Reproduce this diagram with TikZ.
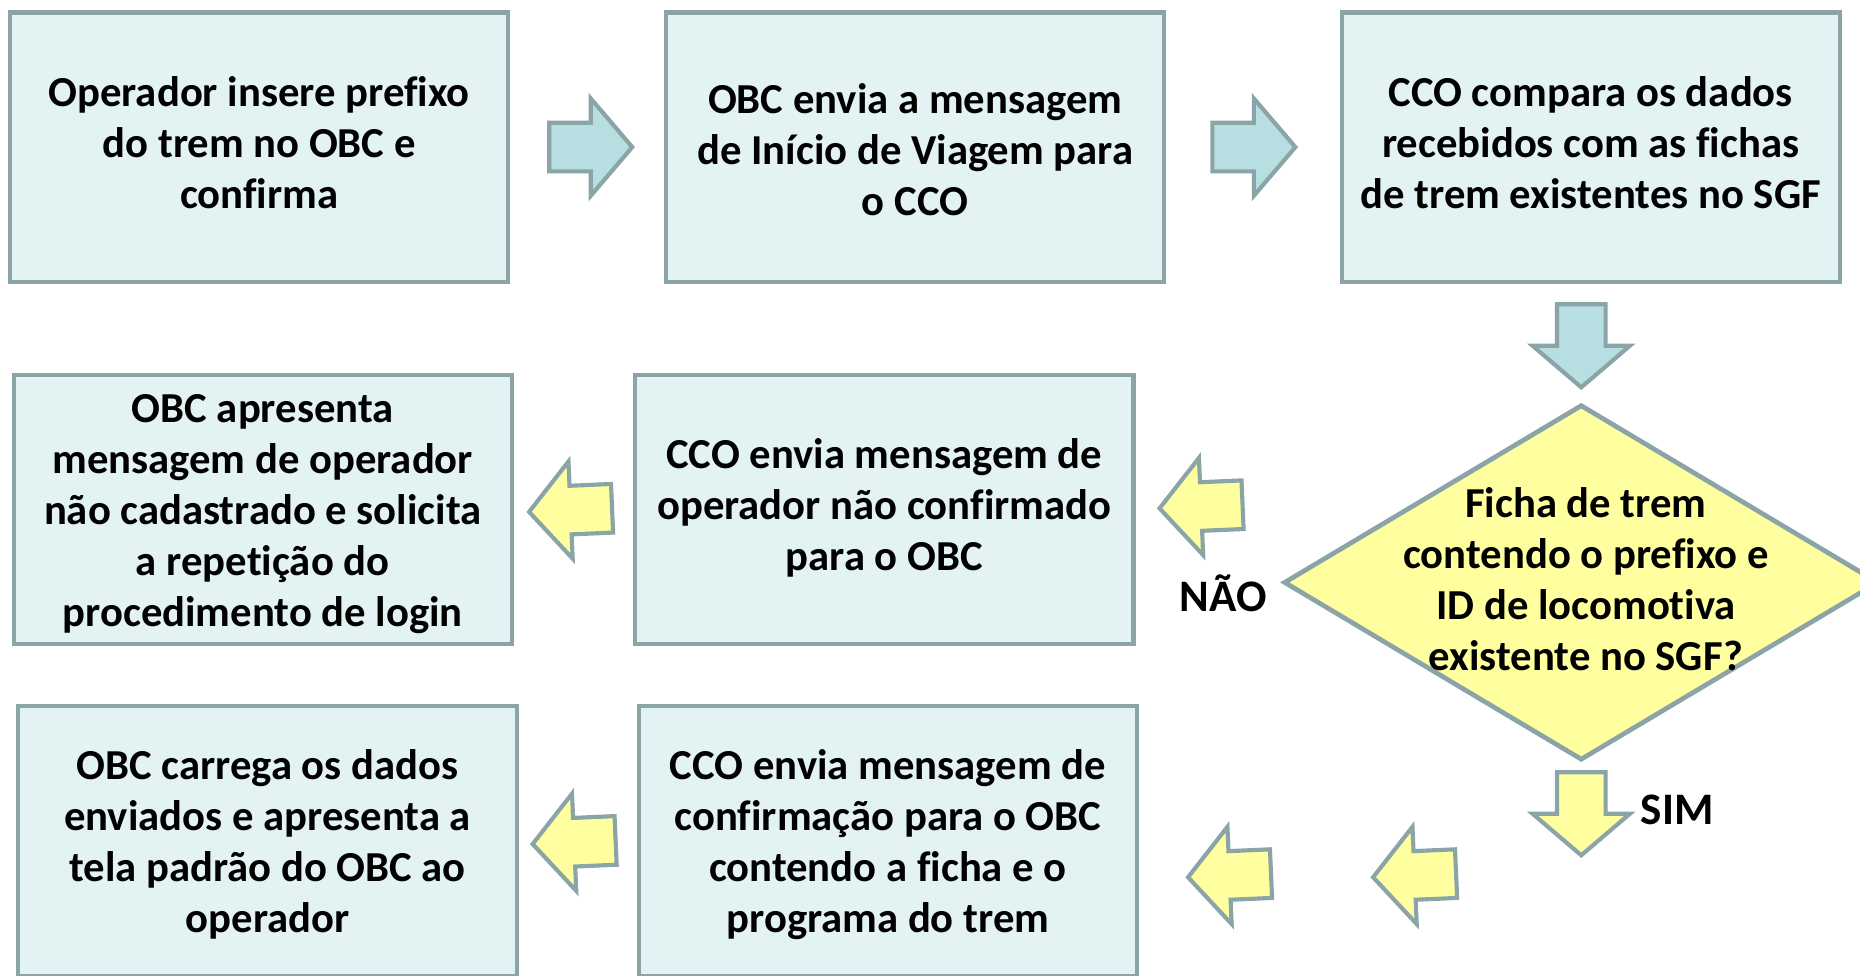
\documentclass[tikz,border=0pt]{standalone}
\usepackage{fontspec}
\setmainfont{Carlito}[Ligatures=NoCommon]
\definecolor{boxfill}{HTML}{E3F2F3}
\definecolor{edgec}{HTML}{8BA4A7}
\definecolor{bluearrow}{HTML}{B7DEE1}
\definecolor{yel}{HTML}{FFFFA0}
\tikzset{
  stepbox/.style={draw=edgec, fill=boxfill, line width=3.5pt, minimum width=420pt, minimum height=227pt,
    align=center, font=\fontsize{36}{43}\selectfont\bfseries, inner sep=0pt},
  qtext/.style={align=center, font=\fontsize{36}{43}\selectfont\bfseries, inner sep=0pt},
  diam/.style={draw=edgec, fill=yel, line width=4pt, line join=miter},
  bluearr/.style={draw=edgec, fill=bluearrow, line width=3.5pt, line join=miter},
  yelarr/.style={draw=edgec, fill=yel, line width=3.5pt, line join=miter},
  lbl/.style={font=\fontsize{38}{44}\selectfont\bfseries, inner sep=0pt}
}
\newcommand\blockarrow[4]{\draw[#1, shift={(#2,#3)}, rotate=#4]
  (-35,-20.5) -- (0,-20.5) -- (0,-41) -- (35,0) -- (0,41) -- (0,20.5) -- (-35,20.5) -- cycle;}
\begin{document}
\begin{tikzpicture}[x=1pt,y=-1pt]
\useasboundingbox (0,0) rectangle (1568,822);
\clip (0,0) rectangle (1568,822);
% process boxes
\node[stepbox] (b1) at (218.5,124) {};
\node[qtext] (t1) at (218.5,120) {Operador insere prefixo\\do trem no OBC e\\confirma};
\node[stepbox] (b2) at (771.5,124) {};
\node[qtext] (t2) at (771.5,126) {OBC envia a mensagem\\de Início de Viagem para\\o CCO};
\node[stepbox] (b3) at (1341,124) {};
\node[qtext] (t3) at (1341,120) {CCO compara os dados\\recebidos com as fichas\\de trem existentes no SGF};
\node[stepbox] (b4) at (221.5,429.5) {};
\node[qtext] (t4) at (221.5,433.5) {OBC apresenta\\mensagem de operador\\não cadastrado e solicita\\a repetição do\\procedimento de login};
\node[stepbox] (b5) at (745.5,429.5) {};
\node[qtext] (t5) at (745.5,428) {CCO envia mensagem de\\operador não confirmado\\para o OBC};
\node[stepbox] (b6) at (225.5,709) {};
\node[qtext] (t6) at (225.5,712) {OBC carrega os dados\\enviados e apresenta a\\tela padrão do OBC ao\\operador};
\node[stepbox] (b7) at (748.5,709) {};
\node[qtext] (t7) at (748.5,712) {CCO envia mensagem de\\confirmação para o OBC\\contendo a ficha e o\\programa do trem};
% decision
\coordinate (dt) at (1333,342);
\coordinate (dr) at (1583,491);
\coordinate (db) at (1333,640);
\coordinate (dl) at (1083,491);
\draw[diam] (dt) -- (dr) -- (db) -- (dl) -- cycle;
\node[qtext] (q) at (1337,488) {Ficha de trem\\contendo o prefixo e\\ID de locomotiva\\existente no SGF?};
% labels
\node[lbl] (nao) at (1031,500) {NÃO};
\node[lbl] (sim) at (1414,683) {SIM};
% block arrows
\blockarrow{bluearr}{498}{124}{0}
\blockarrow{bluearr}{1057}{124}{0}
\blockarrow{bluearr}{1333}{291.5}{-90}
\blockarrow{yelarr}{1012.5}{427}{182.5}
\blockarrow{yelarr}{481}{430}{182.5}
\blockarrow{yelarr}{1333}{686}{-90}
\blockarrow{yelarr}{1192.5}{738}{182.5}
\blockarrow{yelarr}{1036.5}{738}{182.5}
\blockarrow{yelarr}{484}{710}{182.5}
\end{tikzpicture}
\end{document}
